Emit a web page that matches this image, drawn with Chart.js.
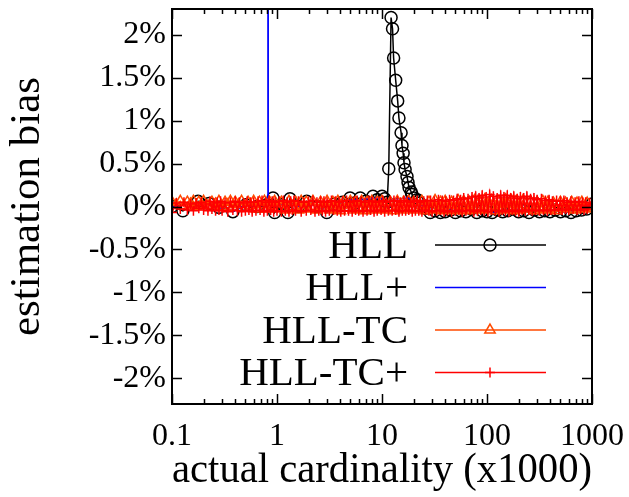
<!DOCTYPE html>
<html>
<head>
<meta charset="utf-8">
<script src="https://cdn.jsdelivr.net/npm/chart.js@4/dist/chart.umd.min.js"></script>
<style>
  body { margin: 0; background: #fff; }
  canvas { display: block; }
</style>
</head>
<body>
<canvas id="myChart" width="629" height="497"></canvas>
<script>
// HLL (black circles) - x in thousands, y in %
const hllX = [0.1, 0.127, 0.177, 0.225, 0.28, 0.38, 0.506, 0.645, 0.8, 0.916, 0.95, 1.1, 1.27, 1.33, 1.6, 1.92, 2.4, 2.98, 3.5, 4.2,
    4.96, 5.5, 6.2, 7, 8.2, 9, 10, 10.6, 11.2, 11.6, 12.2, 12.6, 12.9, 13.5, 14.1, 14.5, 15.2, 15.5, 15.9, 16.2,
    16.6, 17.3, 17.7, 18.1, 19, 19.3, 20.2, 21.6, 23, 26, 28.8, 32, 36, 40, 45, 50, 56, 63, 71, 80,
    90, 100, 112, 126, 141, 158, 178, 200, 224, 251, 282, 316, 355, 398, 447, 501, 562, 631, 708, 794,
    891, 1000];
const hllY = [0.0, -0.05, 0.06, 0.035, -0.01, -0.06, 0.02, 0.0, 0.02, 0.1, -0.07, 0.02, -0.07, 0.09, 0.0, 0.06, 0.0, -0.07, 0.03, 0.05,
    0.1, 0.04, 0.1, 0.06, 0.12, 0.08, 0.12, 0.09, 0.05, 0.44, 2.2, 2.07, 1.73, 1.47, 1.23, 1.03, 0.86, 0.71, 0.62, 0.51,
    0.43, 0.35, 0.28, 0.22, 0.17, 0.14, 0.1, 0.08, 0.04, -0.02, -0.07, -0.05, -0.07, -0.06, -0.04, -0.07, -0.05, -0.06, -0.03, -0.07,
    -0.05, -0.06, -0.07, -0.04, -0.06, -0.05, -0.03, -0.06, -0.05, -0.07, -0.04, -0.06, -0.05, -0.06, -0.04, -0.06, -0.05, -0.07, -0.05, -0.04,
    -0.03, 0.03];

// HLL+ (blue)
const hllPlusX = [0.1, 0.177, 0.28, 0.38, 0.506, 0.645, 0.815, 0.82, 0.825, 0.916, 1.1, 1.33, 1.6, 1.92, 2.4, 2.98, 3.5, 4.2, 4.96, 6.2,
    8.2, 10, 11.2, 12.2, 13.5, 15.2, 17.3, 19.3, 21.6, 23, 26, 28.8, 36, 45, 56, 71, 90, 112, 141, 178,
    224, 282, 355, 447, 562, 708, 891, 1000];
const hllPlusY = [0.0, 0.05, -0.01, -0.06, 0.02, 0.0, 0.03, 60, 0.08, 0.04, 0.02, 0.06, 0.0, 0.05, 0.0, -0.07, 0.03, 0.05, 0.08, 0.08,
    0.1, 0.09, 0.05, 0.08, 0.09, 0.09, 0.1, 0.09, 0.07, 0.04, -0.02, -0.06, -0.06, -0.04, -0.05, -0.03, -0.05, -0.07, -0.06, -0.03,
    -0.05, -0.04, -0.05, -0.04, -0.07, -0.05, -0.03, 0.03];

// HLL-TC (orange triangles)
const tcX = [0.1, 0.11, 0.12, 0.13, 0.14, 0.15, 0.16, 0.17, 0.18, 0.19,
    0.2, 0.22, 0.24, 0.26, 0.28, 0.3, 0.32, 0.34, 0.36, 0.38,
    0.4, 0.43, 0.46, 0.5, 0.53, 0.56, 0.6, 0.64, 0.68, 0.72,
    0.76, 0.8, 0.85, 0.9, 0.95, 1, 1.1, 1.2, 1.3, 1.4,
    1.5, 1.6, 1.7, 1.8, 1.9, 2, 2.2, 2.4, 2.6, 2.8,
    3, 3.2, 3.4, 3.6, 3.8, 4, 4.3, 4.6, 5, 5.3,
    5.6, 6, 6.4, 6.8, 7.2, 7.6, 8, 8.5, 9, 9.5,
    10, 11, 12, 13, 14, 15, 16, 17, 18, 19,
    20, 22, 24, 26, 28, 30, 32, 34, 36, 38,
    40, 43, 46, 50, 53, 56, 60, 64, 68, 72,
    76, 80, 85, 90, 95, 100, 110, 120, 130, 140,
    150, 160, 170, 180, 190, 200, 220, 240, 260, 280,
    300, 320, 340, 360, 380, 400, 430, 460, 500, 530,
    560, 600, 640, 680, 720, 760, 800, 850, 900, 950,
    1000];
const tcY = [0.05, 0.02, 0.06, 0.01, 0.05, 0.03, 0.06, 0.0, 0.05, 0.02,
    0.06, 0.01, 0.05, 0.03, 0.06, 0.0, 0.05, 0.02, 0.06, -0.01,
    0.05, 0.02, 0.06, -0.02, 0.05, 0.01, 0.06, -0.03, 0.05, 0.02,
    0.06, -0.03, 0.05, 0.01, 0.06, -0.02, 0.05, -0.04, 0.06, 0.0,
    0.05, -0.04, 0.06, -0.02, 0.05, -0.03, 0.06, -0.04, 0.05, -0.01,
    0.06, -0.04, 0.05, -0.03, 0.06, -0.05, 0.05, -0.02, 0.06, -0.04,
    0.05, -0.03, 0.06, -0.05, 0.05, -0.02, 0.06, -0.04, 0.05, -0.03,
    0.06, -0.04, 0.05, -0.05, 0.06, -0.03, 0.05, -0.04, 0.06, -0.02,
    0.05, -0.04, 0.06, -0.05, 0.05, -0.03, 0.07, -0.04, 0.05, -0.05,
    0.06, -0.04, 0.05, -0.05, 0.07, -0.03, 0.06, -0.05, 0.05, -0.04,
    0.07, -0.03, 0.06, -0.04, 0.08, -0.03, 0.07, -0.05, 0.06, -0.04,
    0.08, -0.03, 0.07, -0.05, 0.06, -0.04, 0.07, -0.03, 0.06, -0.05,
    0.05, -0.03, 0.06, -0.04, 0.05, -0.03, 0.04, -0.05, 0.05, -0.02,
    0.04, -0.03, 0.05, -0.04, 0.04, -0.02, 0.05, -0.03, 0.04, -0.02,
    0.0];

// HLL-TC+ (red crosses), sampled denser
const tcPlusX = [0.1, 0.11, 0.12, 0.13, 0.14, 0.15, 0.16, 0.17, 0.18, 0.19,
    0.2, 0.21, 0.22, 0.23, 0.24, 0.25, 0.26, 0.27, 0.28, 0.29,
    0.3, 0.32, 0.34, 0.36, 0.38, 0.4, 0.42, 0.44, 0.46, 0.48,
    0.5, 0.52, 0.54, 0.56, 0.58, 0.6, 0.63, 0.66, 0.69, 0.72,
    0.75, 0.78, 0.81, 0.84, 0.87, 0.9, 0.93, 0.96, 1, 1.05,
    1.1, 1.15, 1.2, 1.25, 1.3, 1.35, 1.4, 1.45, 1.5, 1.6,
    1.7, 1.8, 1.9, 2, 2.1, 2.2, 2.3, 2.4, 2.5, 2.6,
    2.7, 2.8, 2.9, 3, 3.15, 3.3, 3.45, 3.6, 3.75, 3.9,
    4.05, 4.2, 4.4, 4.6, 4.8, 5, 5.2, 5.4, 5.6, 5.8,
    6, 6.3, 6.6, 6.9, 7.2, 7.5, 7.8, 8.1, 8.4, 8.7,
    9, 9.4, 9.8, 10.2, 10.6, 11, 11.5, 12, 12.5, 13,
    13.5, 14, 14.5, 15, 15.6, 16.2, 16.8, 17.4, 18, 18.7,
    19.4, 20.1, 20.8, 21.6, 22.4, 23.2, 24, 25, 26, 27,
    28, 29, 30, 31.5, 33, 34.5, 36, 37.5, 39, 40.5,
    42, 44, 46, 48, 50, 52, 54, 56, 58, 60,
    63, 66, 69, 72, 75, 78, 81, 84, 87, 90,
    94, 98, 102, 106, 110, 115, 120, 125, 130, 135,
    140, 145, 150, 156, 162, 168, 174, 180, 187, 194,
    201, 208, 216, 224, 232, 240, 250, 260, 270, 280,
    290, 300, 315, 330, 345, 360, 375, 390, 405, 420,
    440, 460, 480, 500, 520, 540, 560, 580, 600, 630,
    660, 690, 720, 750, 780, 810, 840, 870, 900, 950,
    1000];
const tcPlusY = [-0.07, 0.04, -0.03, 0.05, -0.04, 0.03, -0.05, 0.04, -0.02, 0.05,
    -0.04, 0.03, -0.05, 0.06, -0.03, 0.04, -0.05, 0.05, -0.04, 0.06,
    -0.05, 0.04, -0.06, 0.05, -0.04, 0.06, -0.05, 0.05, -0.06, 0.04,
    -0.05, 0.06, -0.04, 0.05, -0.06, 0.05, -0.05, 0.06, -0.04, 0.07,
    -0.06, 0.05, -0.05, 0.07, -0.04, 0.06, -0.06, 0.05, -0.05, 0.06,
    -0.06, 0.07, -0.05, 0.05, -0.06, 0.06, -0.04, 0.07, -0.05, 0.06,
    -0.06, 0.05, -0.05, 0.06, -0.04, 0.07, -0.06, 0.05, -0.05, 0.06,
    -0.05, 0.06, -0.06, 0.05, -0.05, 0.07, -0.04, 0.06, -0.05, 0.05,
    -0.06, 0.06, -0.05, 0.07, -0.05, 0.05, -0.06, 0.06, -0.04, 0.07,
    -0.05, 0.06, -0.06, 0.05, -0.05, 0.07, -0.04, 0.06, -0.06, 0.05,
    -0.05, 0.06, -0.04, 0.07, -0.06, 0.05, -0.05, 0.06, -0.05, 0.07,
    -0.04, 0.06, -0.06, 0.05, -0.05, 0.07, -0.05, 0.06, -0.04, 0.05,
    -0.06, 0.06, -0.05, 0.07, -0.05, 0.05, -0.06, 0.06, -0.04, 0.07,
    -0.05, 0.07, -0.06, 0.06, -0.05, 0.08, -0.04, 0.07, -0.06, 0.06,
    -0.05, 0.08, -0.06, 0.07, -0.05, 0.09, -0.04, 0.08, -0.06, 0.1,
    -0.05, 0.09, -0.04, 0.11, -0.06, 0.12, -0.05, 0.1, -0.04, 0.13,
    -0.05, 0.11, -0.06, 0.14, -0.04, 0.12, -0.05, 0.1, -0.06, 0.13,
    -0.04, 0.11, -0.05, 0.13, -0.06, 0.1, -0.04, 0.12, -0.05, 0.09,
    -0.06, 0.11, -0.04, 0.1, -0.05, 0.12, -0.04, 0.09, -0.05, 0.1,
    -0.04, 0.08, -0.05, 0.09, -0.04, 0.07, -0.05, 0.08, -0.04, 0.06,
    -0.04, 0.07, -0.03, 0.06, -0.04, 0.07, -0.03, 0.05, -0.04, 0.06,
    -0.03, 0.05, -0.04, 0.06, -0.03, 0.05, -0.04, 0.05, -0.03, 0.04,
    0.02];

const seriesNames = ['HLL', 'HLL+', 'HLL-TC', 'HLL-TC+'];
const xTickValues = [0.1, 1, 10, 100, 1000];
const xTickLabels = ['0.1', '1', '10', '100', '1000'];
const yTickValues = [-2, -1.5, -1, -0.5, 0, 0.5, 1, 1.5, 2];

function pairs(xs, ys) {
    return xs.map((x, i) => ({ x: x, y: ys[i] }));
}

const serif = 'Liberation Serif';

// gnuplot style frame, inward ticks and legend
const gnuplotFrame = {
    id: 'gnuplotFrame',
    afterDatasetsDraw(chart) {
        const ctx = chart.ctx;
        const a = chart.chartArea;
        const xs = chart.scales.x;
        const ys = chart.scales.y;
        ctx.save();
        ctx.strokeStyle = '#000';
        ctx.lineWidth = 1.5;
        ctx.beginPath();
        // x ticks, bottom and top
        xTickValues.forEach((v, i) => {
            const px = Math.round(xs.getPixelForValue(v)) + 0.5;
            ctx.moveTo(px, a.bottom); ctx.lineTo(px, a.bottom - 10);
            ctx.moveTo(px, a.top); ctx.lineTo(px, a.top + 10);
            if (i < xTickValues.length - 1) {
                for (let m = 2; m <= 9; m++) {
                    const mx = Math.round(xs.getPixelForValue(v * m)) + 0.5;
                    ctx.moveTo(mx, a.bottom); ctx.lineTo(mx, a.bottom - 5);
                    ctx.moveTo(mx, a.top); ctx.lineTo(mx, a.top + 5);
                }
            }
        });
        // y ticks, left and right
        yTickValues.forEach(v => {
            const py = Math.round(ys.getPixelForValue(v)) + 0.5;
            ctx.moveTo(a.left, py); ctx.lineTo(a.left + 10, py);
            ctx.moveTo(a.right, py); ctx.lineTo(a.right - 10, py);
        });
        ctx.stroke();
        ctx.lineWidth = 2;
        ctx.strokeRect(a.left, a.top, a.right - a.left, a.bottom - a.top);

        // legend
        ctx.font = '41px "' + serif + '"';
        ctx.textAlign = 'right';
        ctx.textBaseline = 'middle';
        chart.data.datasets.forEach((ds, i) => {
            const y = 245 + i * 42.5;
            ctx.fillStyle = '#000';
            ctx.fillText(ds.label, 408, y + 2);
            ctx.strokeStyle = ds.borderColor;
            ctx.lineWidth = 1.5;
            ctx.beginPath();
            ctx.moveTo(435, y); ctx.lineTo(546, y);
            ctx.stroke();
            if (ds.pointRadius > 0) {
                ctx.fillStyle = 'rgba(0,0,0,0)';
                Chart.helpers.drawPoint(ctx, {
                    pointStyle: ds.pointStyle, radius: ds.pointRadius,
                    rotation: 0, borderWidth: ds.pointBorderWidth
                }, 490, y);
            }
        });
        ctx.restore();
    }
};

document.addEventListener("DOMContentLoaded", function () {
    const ctx = document.getElementById('myChart').getContext('2d');
    const seriesStyle = [
        { color: '#000000', pointStyle: 'circle', radius: 6, order: 4 },
        { color: '#0000ff', pointStyle: 'circle', radius: 0, order: 3 },
        { color: '#ff4a00', pointStyle: 'triangle', radius: 6, order: 2 },
        { color: '#ff0000', pointStyle: 'cross', radius: 5, order: 1 }
    ];
    const seriesData = [pairs(hllX, hllY), pairs(hllPlusX, hllPlusY), pairs(tcX, tcY), pairs(tcPlusX, tcPlusY)];

    new Chart(ctx, {
        type: 'scatter',
        data: {
            datasets: seriesNames.map((name, i) => ({
                label: name,
                data: seriesData[i],
                showLine: true,
                borderColor: seriesStyle[i].color,
                backgroundColor: 'rgba(0,0,0,0)',
                borderWidth: 1.5,
                pointStyle: seriesStyle[i].pointStyle,
                pointRadius: seriesStyle[i].radius,
                pointBorderWidth: 1.5,
                pointBorderColor: seriesStyle[i].color,
                pointBackgroundColor: 'rgba(0,0,0,0)',
                order: seriesStyle[i].order,
                tension: 0
            }))
        },
        options: {
            responsive: false,
            animation: false,
            devicePixelRatio: 1,
            layout: { padding: { top: 9, right: 37, left: 0, bottom: 0 } },
            plugins: { legend: { display: false }, tooltip: { enabled: false } },
            scales: {
                x: {
                    type: 'logarithmic',
                    min: 0.1,
                    max: 1000,
                    afterBuildTicks: scale => { scale.ticks = xTickValues.map(v => ({ value: v })); },
                    afterFit: scale => { scale.height = 93; scale.paddingLeft = 0; scale.paddingRight = 0; },
                    grid: { display: false, drawTicks: false },
                    border: { display: false },
                    ticks: {
                        autoSkip: false, maxRotation: 0, padding: 13,
                        color: '#000', font: { family: serif, size: 32 },
                        callback: (v, i) => xTickLabels[i]
                    },
                    title: {
                        display: true, text: 'actual cardinality (x1000)', color: '#000',
                        font: { family: serif, size: 43, lineHeight: 1 }, padding: { top: 0, bottom: 5 }
                    }
                },
                y: {
                    min: -2.3,
                    max: 2.3,
                    afterBuildTicks: scale => { scale.ticks = yTickValues.map(v => ({ value: v })); },
                    afterFit: scale => { scale.width = 172; scale.paddingTop = 0; scale.paddingBottom = 0; },
                    grid: { display: false, drawTicks: false },
                    border: { display: false },
                    ticks: {
                        padding: 6, color: '#000', font: { family: serif, size: 32 },
                        callback: v => v + '%'
                    },
                    title: {
                        display: true, text: 'estimation bias', color: '#000',
                        font: { family: serif, size: 43, lineHeight: 1 }, padding: { top: 6, bottom: 0 }
                    }
                }
            }
        },
        plugins: [gnuplotFrame]
    });
});
</script>
</body>
</html>
